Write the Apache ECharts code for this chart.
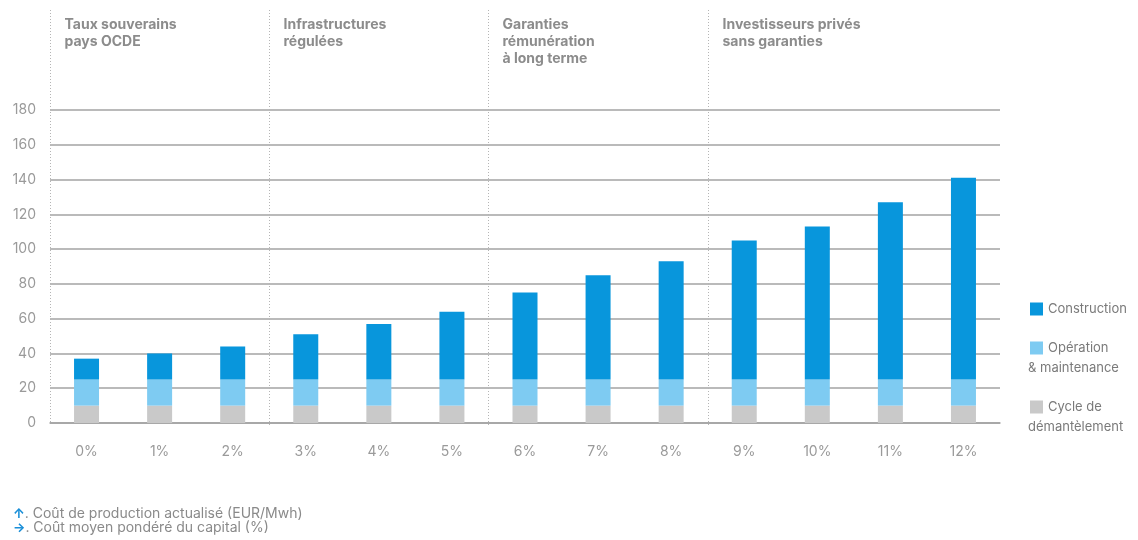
<!DOCTYPE html>
<html>
<head>
<meta charset="utf-8">
<script src="https://cdn.jsdelivr.net/npm/echarts@6/dist/echarts.min.js"></script>
<style>
  html, body { margin: 0; padding: 0; background: #fff; }
  #chart { width: 1138px; height: 540px; }
</style>
</head>
<body>
<div id="chart"></div>
<script>
// catégories (coût moyen pondéré du capital)
var categories = ['0%', '1%', '2%', '3%', '4%', '5%', '6%', '7%', '8%', '9%', '10%', '11%', '12%'];
// valeurs (EUR/MWh)
var cycleValues = [10, 10, 10, 10, 10, 10, 10, 10, 10, 10, 10, 10, 10];
var omValues = [15, 15, 15, 15, 15, 15, 15, 15, 15, 15, 15, 15, 15];
var constructionValues = [12, 15, 19, 26, 32, 39, 50, 60, 68, 80, 88, 102, 116];
// groupes
var groupTitles = ['Taux souverains\npays OCDE', 'Infrastructures\nrégulées', 'Garanties\nrémunération\nà long terme', 'Investisseurs privés\nsans garanties'];
var groupStart = [0, 3, 6, 9];
var legendLabels = {
    'Construction': 'Construction',
    'Opération & maintenance': ' \nOpération\n{w|& maintenance}',
    'Cycle de démantèlement': ' \nCycle de\n{w|démantèlement}'
};

var FONT = 'Inter, "Liberation Sans", sans-serif';
var chart = echarts.init(document.getElementById('chart'));

var option = {
    animation: false,
    textStyle: { fontFamily: FONT },
    title: {
        left: 8,
        top: 502,
        text: '{a|↑}{b|. Coût de production actualisé (EUR/Mwh)}\n{a|→}{b|. Coût moyen pondéré du capital (%)}',
        textStyle: {
            fontWeight: 'normal',
            rich: {
                a: { color: '#1a8fd8', fontSize: 13, fontWeight: 'bold', fontFamily: FONT, lineHeight: 14 },
                b: { color: '#8a8a8a', fontSize: 14, fontWeight: 'normal', fontFamily: FONT, lineHeight: 14 }
            }
        }
    },
    legend: {
        orient: 'vertical',
        left: 1023,
        top: 294,
        itemWidth: 13,
        itemHeight: 13,
        itemGap: -1,
        icon: 'rect',
        data: ['Construction', 'Opération & maintenance', 'Cycle de démantèlement'],
        formatter: function (name) { return legendLabels[name]; },
        textStyle: {
            color: '#7a7a7a', fontSize: 13, lineHeight: 20, fontFamily: FONT,
            rich: {
                w: { color: '#7a7a7a', fontSize: 13, lineHeight: 20, fontFamily: FONT, padding: [0, 0, 0, -20] }
            }
        }
    },
    grid: { left: 50, right: 138, top: 110, bottom: 117 },
    xAxis: {
        type: 'category',
        data: categories,
        axisLine: { show: true, lineStyle: { color: '#a3a3a3', width: 1.5 } },
        axisTick: { show: false },
        axisLabel: { color: '#9a9a9a', fontSize: 14, margin: 22, fontFamily: FONT }
    },
    yAxis: {
        type: 'value',
        min: 0,
        max: 180,
        interval: 20,
        axisLine: { show: false },
        axisTick: { show: false },
        axisLabel: { color: '#9a9a9a', fontSize: 14, margin: 14, fontFamily: FONT },
        splitLine: { lineStyle: { color: '#a3a3a3', width: 1.5 } }
    },
    series: [
        {
            name: 'Cycle de démantèlement',
            type: 'bar',
            stack: 'total',
            barWidth: 25,
            itemStyle: { color: '#c9c9c9' },
            data: cycleValues
        },
        {
            name: 'Opération & maintenance',
            type: 'bar',
            stack: 'total',
            barWidth: 25,
            itemStyle: { color: '#7ecbf2' },
            data: omValues
        },
        {
            name: 'Construction',
            type: 'bar',
            stack: 'total',
            barWidth: 25,
            itemStyle: { color: '#0896dc' },
            data: constructionValues
        }
    ]
};

chart.setOption(option);

// séparateurs pointillés et titres des groupes
var x0 = chart.convertToPixel({ xAxisIndex: 0 }, categories[0]);
var x1 = chart.convertToPixel({ xAxisIndex: 0 }, categories[1]);
var half = (x1 - x0) / 2;
var yBase = chart.convertToPixel({ yAxisIndex: 0 }, 0);
var elements = [];
for (var i = 0; i < groupStart.length; i++) {
    var gx = Math.round(chart.convertToPixel({ xAxisIndex: 0 }, categories[groupStart[i]]) - half) + 0.5;
    elements.push({
        type: 'line',
        shape: { x1: gx, y1: 10, x2: gx, y2: yBase + (i > 0 ? 4 : 0) },
        style: { stroke: '#b5b5b5', lineWidth: 1, lineDash: [1, 2] },
        z: 0
    });
    elements.push({
        type: 'text',
        x: gx + 14,
        y: 16,
        style: {
            text: groupTitles[i],
            fill: '#8c8c8c',
            font: 'bold 14px ' + FONT,
            lineHeight: 17
        }
    });
}
chart.setOption({ graphic: elements });
</script>
</body>
</html>
